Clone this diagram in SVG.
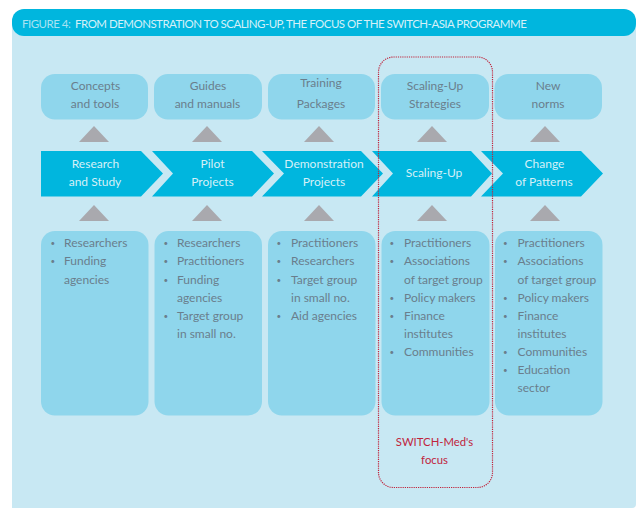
<svg xmlns="http://www.w3.org/2000/svg" width="638" height="508" viewBox="0 0 638 508">
<style>
text{font-family:"Lato","Noto Sans",sans-serif;font-size:12px}
.c{text-anchor:middle}
.d{fill:#6a7e8c}
.w{fill:#d5f0f8}
.top{fill:#8fd6ec}
.arr{fill:#00b6de}
.tri{fill:#a9a9ae}
.b{fill:#6a7e8c;font-size:8px}
.r{fill:#c0243c;font-size:11.300px}
</style>
<rect width="638" height="508" fill="#fff"/>
<path d="M12 20H636V504a4 4 0 0 1-4 4H12Z" fill="#c8e8f3"/>
<g id="header"><rect x="12" y="9" width="624" height="27" rx="12" fill="#00b6de"/>
<text x="22" y="28" style="font-size:11.500px;letter-spacing:-0.520px" fill="#d5f0f8" xml:space="preserve"><tspan fill="#a8e2f2">FIGURE 4:  </tspan>FROM DEMONSTRATION TO SCALING-UP, THE FOCUS OF THE SWITCH-ASIA PROGRAMME</text></g>
<g id="connectors">
<path class="tri" d="M79 142L94 126L109 142ZM192 142L207 126L222 142ZM304 142L319 126L334 142ZM417 142L432 126L447 142ZM530 142L545 126L560 142Z"/>
<path class="tri" d="M79 221L94 205L109 221ZM192 221L207 205L222 221ZM304 221L319 205L334 221ZM417 221L432 205L447 221ZM530 221L545 205L560 221Z"/>
</g>
<g id="output1"><rect class="top" x="41" y="74" width="107" height="45.500" rx="14"/><text class="c d" x="95.500" y="90">Concepts</text><text class="c d" x="95" y="108">and tools</text></g>
<g id="output2"><rect class="top" x="154" y="74" width="108" height="45.500" rx="14"/><text class="c d" x="208" y="90">Guides</text><text class="c d" x="207.500" y="108">and manuals</text></g>
<g id="output3"><rect class="top" x="268" y="74" width="107" height="45.500" rx="14"/><text class="c d" x="321" y="87">Training</text><text class="c d" x="321" y="108">Packages</text></g>
<g id="output4"><rect class="top" x="381" y="74" width="108" height="45.500" rx="14"/><text class="c d" x="435" y="90">Scaling-Up</text><text class="c d" x="435" y="108">Strategies</text></g>
<g id="output5"><rect class="top" x="494.500" y="74" width="107.500" height="45.500" rx="14"/><text class="c d" x="548" y="90">New</text><text class="c d" x="548" y="108">norms</text></g>
<g id="stage1"><path class="arr" d="M41 151H141L163 173.500L141 196.500H41Z"/><text class="c w" x="95.500" y="168">Research</text><text class="c w" x="95" y="186">and Study</text></g>
<g id="stage2"><path class="arr" d="M152 151H252L274 173.500L252 196.500H152L173 173.500Z"/><text class="c w" x="212.500" y="168">Pilot</text><text class="c w" x="212.500" y="186">Projects</text></g>
<g id="stage3"><path class="arr" d="M262 151H361L383 173.500L361 196.500H262L284 173.500Z"/><text class="c w" x="324" y="168">Demonstration</text><text class="c w" x="324" y="186">Projects</text></g>
<g id="stage4"><path class="arr" d="M372 151H471L492 173.500L471 196.500H372L393 173.500Z"/><text class="c w" x="434" y="177">Scaling-Up</text></g>
<g id="stage5"><path class="arr" d="M481 151H581L603 173.500L581 196.500H481L503 173.500Z"/><text class="c w" x="544.500" y="168">Change</text><text class="c w" x="544" y="186">of Patterns</text></g>
<g id="actors1"><rect class="top" x="41" y="231" width="107.500" height="184.500" rx="14"/>
<text class="b" x="50.500" y="246">•</text><text class="d" x="64" y="247">Researchers</text>
<text class="b" x="50.500" y="264">•</text><text class="d" x="64" y="265">Funding</text><text class="d" x="64" y="284">agencies</text></g>
<g id="actors2"><rect class="top" x="154.500" y="231" width="107.500" height="184.500" rx="14"/>
<text class="b" x="163.500" y="246">•</text><text class="d" x="177" y="247">Researchers</text>
<text class="b" x="163.500" y="264">•</text><text class="d" x="177" y="265">Practitioners</text>
<text class="b" x="163.500" y="283">•</text><text class="d" x="177" y="284">Funding</text><text class="d" x="177" y="302">agencies</text>
<text class="b" x="163.500" y="319">•</text><text class="d" x="177" y="320">Target group</text><text class="d" x="177" y="338">in small no.</text></g>
<g id="actors3"><rect class="top" x="268" y="231" width="107.500" height="184.500" rx="14"/>
<text class="b" x="276.500" y="246">•</text><text class="d" x="291" y="247">Practitioners</text>
<text class="b" x="276.500" y="264">•</text><text class="d" x="291" y="265">Researchers</text>
<text class="b" x="276.500" y="283">•</text><text class="d" x="291" y="284">Target group</text><text class="d" x="291" y="302">in small no.</text>
<text class="b" x="276.500" y="319">•</text><text class="d" x="291" y="320">Aid agencies</text></g>
<g id="actors4"><rect class="top" x="381.500" y="231" width="108" height="184.500" rx="14"/>
<text class="b" x="389.500" y="246">•</text><text class="d" x="404" y="247">Practitioners</text>
<text class="b" x="389.500" y="264">•</text><text class="d" x="404" y="265">Associations</text><text class="d" x="404" y="284">of target group</text>
<text class="b" x="389.500" y="301">•</text><text class="d" x="404" y="302">Policy makers</text>
<text class="b" x="389.500" y="319">•</text><text class="d" x="404" y="320">Finance</text><text class="d" x="404" y="338">institutes</text>
<text class="b" x="389.500" y="355">•</text><text class="d" x="404" y="356">Communities</text></g>
<g id="actors5"><rect class="top" x="495" y="231" width="107.500" height="184.500" rx="14"/>
<text class="b" x="503" y="246">•</text><text class="d" x="517.500" y="247">Practitioners</text>
<text class="b" x="503" y="264">•</text><text class="d" x="517.500" y="265">Associations</text><text class="d" x="517.500" y="284">of target group</text>
<text class="b" x="503" y="301">•</text><text class="d" x="517.500" y="302">Policy makers</text>
<text class="b" x="503" y="319">•</text><text class="d" x="517.500" y="320">Finance</text><text class="d" x="517.500" y="338">institutes</text>
<text class="b" x="503" y="355">•</text><text class="d" x="517.500" y="356">Communities</text>
<text class="b" x="503" y="373">•</text><text class="d" x="517.500" y="374">Education</text><text class="d" x="517.500" y="392">sector</text></g>
<g id="focus"><rect x="378.500" y="57" width="114" height="430.500" rx="15" fill="none" stroke="#c0243c" stroke-width="1.200" stroke-dasharray="1.200 1"/>
<text class="c r" x="434.500" y="446">SWITCH-Med's</text><text class="c r" x="434.500" y="464">focus</text></g>
</svg>
